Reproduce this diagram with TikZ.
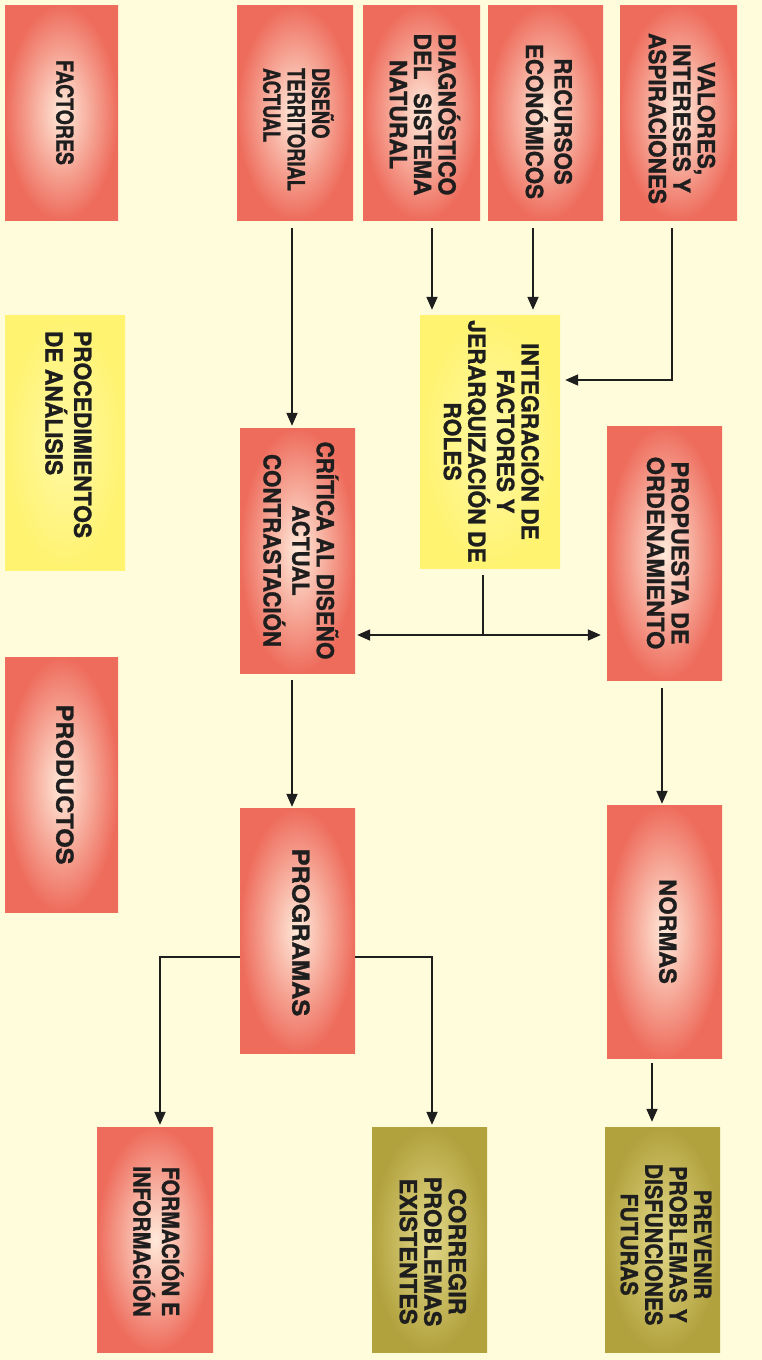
\documentclass[tikz,border=0pt]{standalone}
\usepackage{fontspec}
\setmainfont{TeX Gyre Heros}[BoldFeatures={FakeBold=1.2}]
\usetikzlibrary{arrows.meta}
\definecolor{bg}{RGB}{255,252,220}
\definecolor{redout}{RGB}{238,108,92}
\definecolor{redin}{RGB}{255,234,218}
\definecolor{olout}{RGB}{178,162,62}
\definecolor{olin}{RGB}{226,216,136}
\definecolor{ylw}{RGB}{255,243,112}
\definecolor{ylwin}{RGB}{255,248,165}
\definecolor{ink}{RGB}{30,30,30}
% #1 stretch, #2 shift along text, #3 alignment, #4 lines
\newcommand{\vtext}[4]{\rotatebox{-90}{\hspace*{#2}\scalebox{#1}[1]{\begin{tabular}{@{}#3@{}}#4\end{tabular}}\hspace*{-#2}}}
\begin{document}
\begin{tikzpicture}[x=1pt,y=-1pt,
  box/.style={inner sep=0pt, font=\fontsize{23.5}{23.5}\selectfont\bfseries, text=ink},
  redbox/.style={box, inner color=redin, outer color=redout},
  olbox/.style={box, inner color=olin, outer color=olout},
  ylbox/.style={box, inner color=ylwin, outer color=ylw},
  arr/.style={draw=ink, line width=1.8pt, -{Triangle[length=13pt,width=11pt]}},
  dbl/.style={draw=ink, line width=1.8pt, {Triangle[length=13pt,width=11pt]}-{Triangle[length=13pt,width=11pt]}},
  ln/.style={draw=ink, line width=1.8pt}
]
\fill[bg] (0,0) rectangle (762,1360);
\useasboundingbox (0,0) rectangle (762,1360);

% top row
\node[redbox, minimum width=113pt, minimum height=215pt] (fac) at (61.5,112.5) {\vtext{0.83}{0pt}{c}{FACTORES}};
\node[redbox, minimum width=116pt, minimum height=215pt] (dis) at (295,112.5) {\vtext{0.78}{17pt}{l}{DISEÑO\\TERRITORIAL\\ACTUAL}};
\node[redbox, minimum width=117pt, minimum height=215pt] (diag) at (421.5,112.5) {\vtext{0.98}{2pt}{c}{DIAGNÓSTICO\\DEL\hspace{0.6em}SISTEMA\\NATURAL}};
\node[redbox, minimum width=115pt, minimum height=215pt] (rec) at (545.5,112.5) {\vtext{0.95}{9pt}{c}{RECURSOS\\ECONÓMICOS}};
\node[redbox, minimum width=117pt, minimum height=215pt] (val) at (678.5,112.5) {\vtext{0.96}{6pt}{c}{VALORES,\\INTERESES Y\\ASPIRACIONES}};

% middle row
\node[ylbox, minimum width=120pt, minimum height=255pt] (proc) at (65,442.5) {\vtext{0.97}{-8pt}{l}{PROCEDIMIENTOS\\DE ANÁLISIS}};
\node[ylbox, minimum width=140pt, minimum height=253pt] (int) at (490,441.5) {\vtext{0.97}{0pt}{c}{INTEGRACIÓN DE\\FACTORES Y\\JERARQUIZACIÓN DE\\ROLES}};
\node[redbox, minimum width=115pt, minimum height=245pt] (cri) at (297.5,550.5) {\vtext{0.95}{0pt}{c}{CRÍTICA AL DISEÑO\\ACTUAL\\CONTRASTACIÓN}};
\node[redbox, minimum width=115pt, minimum height=254pt] (pro) at (664.5,553) {\vtext{1.0}{0pt}{c}{PROPUESTA DE\\ORDENAMIENTO}};

% products row
\node[redbox, minimum width=113pt, minimum height=255pt] (prd) at (61.5,784.5) {\vtext{1.07}{0pt}{c}{PRODUCTOS}};
\node[redbox, minimum width=115pt, minimum height=245pt] (prog) at (297.5,930.5) {\vtext{1.08}{2pt}{c}{PROGRAMAS}};
\node[redbox, minimum width=115pt, minimum height=253pt] (nor) at (664.5,931.5) {\vtext{1.0}{0pt}{c}{NORMAS}};

% bottom row
\node[redbox, minimum width=116pt, minimum height=225pt] (form) at (155,1239.5) {\vtext{0.9}{2pt}{c}{FORMACIÓN E\\INFORMACIÓN}};
\node[olbox, minimum width=115pt, minimum height=225pt] (corr) at (429.5,1239.5) {\vtext{1.0}{12pt}{c}{CORREGIR\\PROBLEMAS\\EXISTENTES}};
\node[olbox, minimum width=115pt, minimum height=225pt] (prev) at (662.5,1239.5) {\vtext{0.91}{5pt}{c}{PREVENIR\\PROBLEMAS Y\\DISFUNCIONES\\FUTURAS}};

% coordinates
\coordinate (a1) at (292,0);
\coordinate (a2) at (432,0);
\coordinate (a3) at (533,0);
\coordinate (vj) at (672,380);
\coordinate (jn) at (483,635);
\coordinate (pl) at (160,957);
\coordinate (pr) at (432,957);
\coordinate (a4) at (662,0);
\coordinate (a5) at (652,0);

% connectors
\draw[arr, shorten <=8pt, shorten >=2pt] (dis.south -| a1) -- (cri.north -| a1);
\draw[arr, shorten <=8pt, shorten >=5pt] (diag.south -| a2) -- (int.north -| a2);
\draw[arr, shorten <=8pt, shorten >=5pt] (rec.south -| a3) -- (int.north -| a3);
\draw[arr, shorten <=8pt, shorten >=5pt] (val.south -| vj) |- (int.east |- vj);
\draw[ln, shorten <=7pt] (int.south -| jn) -- (jn);
\draw[dbl, shorten <=2pt, shorten >=6pt] (cri.east |- jn) -- (pro.west |- jn);
\draw[arr, shorten <=7pt, shorten >=1pt] (cri.south -| a1) -- (prog.north -| a1);
\draw[arr, shorten <=8pt, shorten >=1pt] (pro.south -| a4) -- (nor.north -| a4);
\draw[arr, shorten >=2pt] (prog.west |- pl) -| (form.north -| pl);
\draw[arr, shorten >=2pt] (prog.east |- pr) -| (corr.north -| pr);
\draw[arr, shorten <=5pt, shorten >=5pt] (nor.south -| a5) -- (prev.north -| a5);
\end{tikzpicture}
\end{document}
